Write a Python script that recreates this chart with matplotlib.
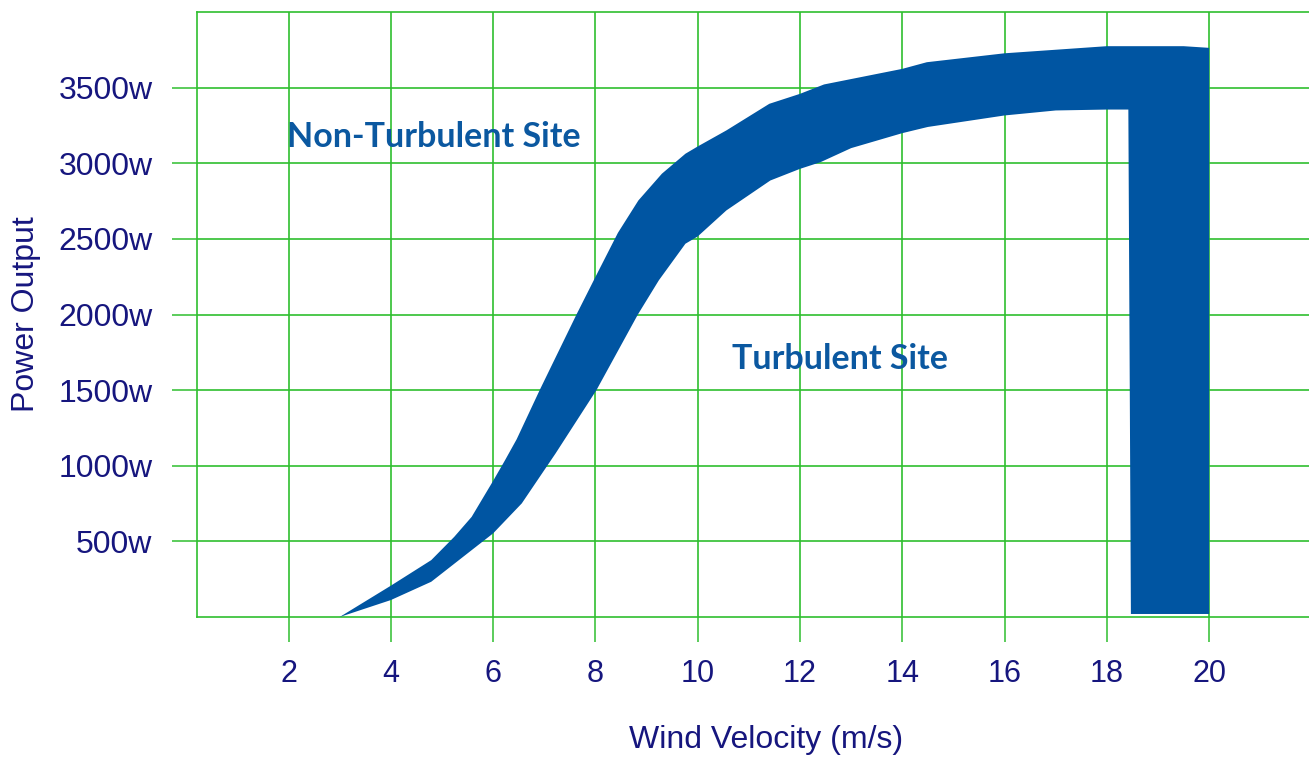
import numpy as np
import matplotlib
matplotlib.use("Agg")
import matplotlib.pyplot as plt

# ---------- DATA ----------
# upper edge of the band = non-turbulent site power curve
upper_x = [3.0, 4.0, 4.79, 5.24, 5.58, 6.0, 6.23, 6.46, 6.91, 7.63, 8.0, 8.44,
           8.84, 9.3, 9.76, 10.0, 10.56, 11.4, 12.0, 12.47, 14.0, 14.48, 16.0,
           18.0, 19.5, 20.0]
upper_y = [0, 207, 376, 530, 662, 900, 1035, 1175, 1500, 2000, 2248, 2540,
           2754, 2931, 3063, 3111, 3217, 3393, 3459, 3521, 3624, 3668, 3727,
           3774, 3774, 3763]

# lower edge of the band = turbulent site power curve
lower_x = [3.0, 4.0, 4.79, 6.0, 6.56, 7.22, 8.02, 8.83, 9.24, 9.76, 10.0,
           10.56, 11.42, 12.0, 12.4, 13.0, 14.0, 14.5, 16.0, 17.0, 18.0, 18.42]
lower_y = [0, 112, 233, 553, 751, 1081, 1500, 2000, 2226, 2468, 2516,
           2688, 2886, 2963, 3007, 3100, 3199, 3240, 3316, 3349, 3355, 3355]

# cut-out block at the high wind end
cutout_x = [20.0, 18.47]
cutout_y = [20, 20]

x_ticks = [2, 4, 6, 8, 10, 12, 14, 16, 18, 20]
y_ticks = [500, 1000, 1500, 2000, 2500, 3000, 3500]
y_ticklabels = ["500w", "1000w", "1500w", "2000w", "2500w", "3000w", "3500w"]

# ---------- STYLE ----------
GRID = "#2fbf2f"
NAVY = "#16167e"
BAND = "#0055a2"
TEXT_BLUE = "#0b58a0"

plt.rcParams["font.family"] = ["Liberation Sans", "DejaVu Sans"]

W, H = 1309, 758
fig = plt.figure(figsize=(W / 100, H / 100), dpi=100)
# axes runs a bit past the right edge of the figure, as in the reference
left, right, top, bottom = 197, 1336, 12, 617
ax = fig.add_axes([left / W, (H - bottom) / H, (right - left) / W, (bottom - top) / H])

# ---------- BAND ----------
poly_x = list(upper_x) + cutout_x + list(lower_x[::-1])
poly_y = list(upper_y) + cutout_y + list(lower_y[::-1])
ax.fill(poly_x, poly_y, color=BAND, lw=0, zorder=3)

# ---------- AXES ----------
ax.set_xlim(0.21, 22.48)
ax.set_ylim(0, 4000)
ax.set_xticks(x_ticks)
ax.set_yticks(y_ticks)
ax.set_yticklabels(y_ticklabels)

ax.grid(True, color=GRID, lw=1.2, zorder=1)
ax.set_axisbelow(True)
for s in ax.spines.values():
    s.set_color(GRID)
    s.set_linewidth(1.2)

ax.tick_params(axis="both", length=18, width=1.1, color=GRID, labelcolor=NAVY)
ax.tick_params(axis="x", pad=12, labelsize=22)
ax.tick_params(axis="y", pad=14, labelsize=23)

ax.set_xlabel("Wind Velocity (m/s)", fontsize=23, color=NAVY, va="center")
ax.set_ylabel("Power Output", fontsize=23, color=NAVY, va="center")
ax.xaxis.set_label_coords(0.5, -0.203)
ax.yaxis.set_label_coords(-0.15, 0.5)

# ---------- ANNOTATIONS ----------
ax.text(1.97, 3175, "Non-Turbulent Site", fontsize=24.5, fontweight="bold",
        family=["Lato", "DejaVu Sans"], color=TEXT_BLUE, ha="left", va="center", zorder=4)
ax.text(10.68, 1705, "Turbulent Site", fontsize=24.5, fontweight="bold",
        family=["Lato", "DejaVu Sans"], color=TEXT_BLUE, ha="left", va="center", zorder=4)

fig.savefig("out.png", dpi=100)
plt.close(fig)
